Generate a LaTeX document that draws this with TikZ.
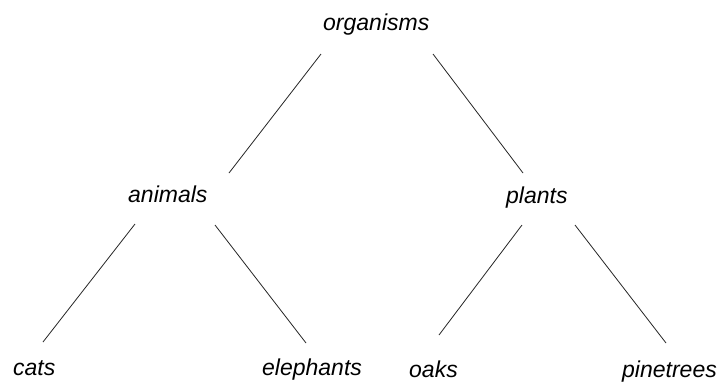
\documentclass[tikz,border=0pt]{standalone}
\usepackage{fontspec}
\setmainfont{Liberation Sans}
\begin{document}
\begin{tikzpicture}[x=1pt,y=-1pt,
  lbl/.style={anchor=base west,inner sep=0pt,font=\fontsize{23}{27}\selectfont\itshape},
  edge/.style={draw=black!85,line width=0.8pt}]
\useasboundingbox[fill=white] (0,0) rectangle (721,381);
\node[lbl] (organisms) at (323,30) {organisms};
\node[lbl] (animals) at (128,202) {animals};
\node[lbl] (plants) at (506,203) {plants};
\node[lbl] (cats) at (13,375) {cats};
\node[lbl] (elephants) at (262,375) {elephants};
\node[lbl] (oaks) at (409,377) {oaks};
\node[lbl] (pinetrees) at (622,377) {pinetrees};
\coordinate (oA) at (321,54);
\coordinate (aO) at (229,173);
\coordinate (oP) at (433,54);
\coordinate (pO) at (523,173);
\coordinate (aC) at (135,224);
\coordinate (cA) at (43,342);
\coordinate (aE) at (215,225);
\coordinate (eA) at (306,343);
\coordinate (pK) at (522,225);
\coordinate (kP) at (439,335);
\coordinate (pT) at (575,225);
\coordinate (tP) at (666,343);
\draw[edge] (oA) -- (aO);
\draw[edge] (oP) -- (pO);
\draw[edge] (aC) -- (cA);
\draw[edge] (aE) -- (eA);
\draw[edge] (pK) -- (kP);
\draw[edge] (pT) -- (tP);
\end{tikzpicture}
\end{document}
